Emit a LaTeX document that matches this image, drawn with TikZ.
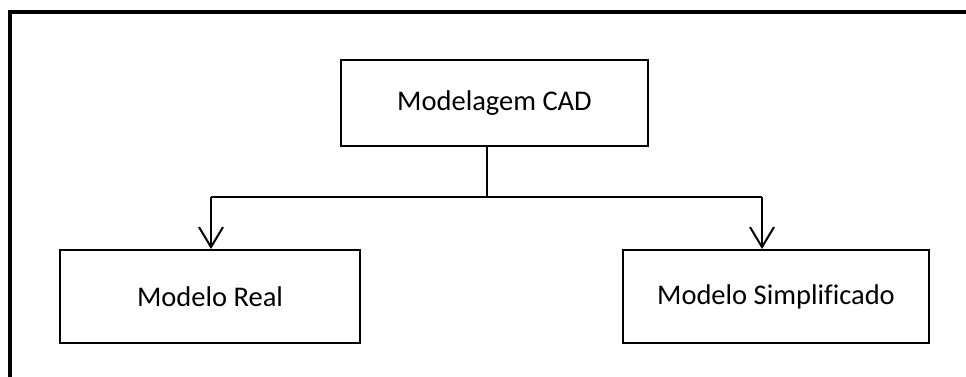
\documentclass[tikz,border=0pt]{standalone}
\usepackage{fontspec}
\setmainfont[Ligatures=NoCommon]{Carlito}
\usetikzlibrary{arrows.meta}
\begin{document}
\begin{tikzpicture}[x=1pt,y=-1pt,
  box/.style={draw,line width=2pt,minimum width=#1,inner sep=0pt,font=\fontsize{28.5}{34}\selectfont},
  conn/.style={line width=2pt},
  arr/.style={line width=2pt,-{Straight Barb[length=20pt,width=24pt,line width=2pt]}}]
\useasboundingbox (0,0) rectangle (966,376);
\fill[white] (0,0) rectangle (966,376);
\draw[line width=4pt] (10,380) -- (10,12) -- (970,12);
\node[box=307pt,minimum height=86pt] (top) at (494.5,103) {Modelagem CAD};
\node[box=300pt,minimum height=93pt] (left) at (210,296.5) {Modelo Real};
\node[box=306pt,minimum height=93pt] (right) at (776,296.5) {Modelo Simplificado};
\coordinate (j) at (487,197);
\coordinate (la) at (211,197);
\coordinate (ra) at (762,197);
\draw[conn] (j |- top.south) -- (j);
\draw[conn] (la) -- (ra);
\draw[arr] (la) -- (la |- left.north);
\draw[arr] (ra) -- (ra |- right.north);
\end{tikzpicture}
\end{document}
